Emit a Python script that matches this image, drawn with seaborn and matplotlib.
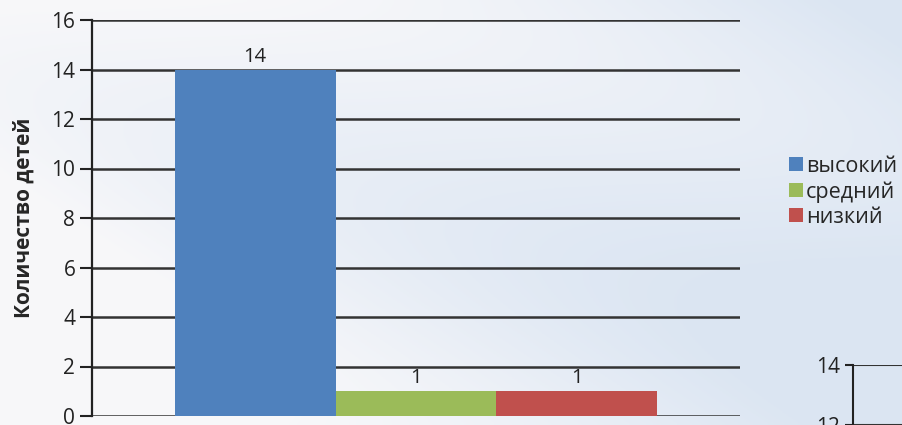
import matplotlib
matplotlib.use("Agg")
import matplotlib.pyplot as plt
import numpy as np
import pandas as pd
import seaborn as sns

# data
levels = ["высокий", "средний", "низкий"]
counts = [14, 1, 1]
level_colors = ["#4f81bd", "#9bbb59", "#c0504d"]
y_ticks = [0, 2, 4, 6, 8, 10, 12, 14, 16]
ylabel = "Количество детей"

# second (cropped) chart in the bottom-right corner
frag_ticks = [12, 14]

df = pd.DataFrame({"group": [""] * len(levels), "level": levels, "count": counts})

sns.set_style("white")
plt.rcParams["font.family"] = ["Open Sans", "DejaVu Sans"]

fig = plt.figure(figsize=(9.03, 4.25), dpi=100)

# soft sky-like backdrop
bg = fig.add_axes([0, 0, 1, 1], zorder=-10)
gx = np.linspace(0, 1, 300)
gy = np.linspace(0, 1, 150)
X, Y = np.meshgrid(gx, gy)
base = np.array([0.86, 0.90, 0.95])
white = np.array([0.97, 0.97, 0.98])
w = np.clip(1.1 - X * 1.1 + 0.25 * np.sin(Y * 6 + X * 4), 0, 1)[..., None]
img = base * (1 - w) + white * w
bg.imshow(img, aspect="auto", extent=[0, 1, 0, 1], origin="lower")
bg.axis("off")

W, H = 903, 425
ax = fig.add_axes([92 / W, (H - 416) / H, (740 - 92) / W, (416 - 20) / H])
ax.patch.set_alpha(0)

sns.barplot(data=df, x="group", y="count", hue="level", palette=level_colors,
            width=0.745, dodge=True, saturation=1, linewidth=0,
            ax=ax, zorder=3, legend=True)

for c in ax.containers:
    ax.bar_label(c, labels=[str(int(v)) for v in c.datavalues], padding=2,
                 fontsize=14.5, color="#222222")

ax.set_ylim(0, 16)
ax.set_xlim(-0.5, 0.5)
ax.set_yticks(y_ticks)
ax.set_xticks([])
ax.set_xlabel("")
ax.set_ylabel(ylabel, fontsize=15, fontweight="bold", labelpad=12)
ax.tick_params(axis="y", labelsize=15, length=9, width=1.5, color="#222222",
               pad=3, labelcolor="#222222", left=True)
ax.grid(axis="y", color="#333333", linewidth=1.8, zorder=0)
ax.set_axisbelow(True)
for s in ["top", "right", "bottom"]:
    ax.spines[s].set_visible(False)
ax.spines["left"].set_color("#222222")
ax.spines["left"].set_linewidth(1.6)

handles, labels = ax.get_legend_handles_labels()
ax.legend(handles, labels, loc="upper left", bbox_to_anchor=(778 / W, (H - 145) / H),
          bbox_transform=fig.transFigure, frameon=False, fontsize=15.5,
          handlelength=0.65, handleheight=0.65, handletextpad=0.15,
          labelspacing=0.2, borderpad=0)

# fragment of the next chart, cut off by the picture edge
ax2 = fig.add_axes([853 / W, (H - 365 - 420) / H, 100 / W, 420 / H])
ax2.patch.set_alpha(0)
ax2.set_ylim(0, 14)
ax2.set_yticks(frag_ticks)
ax2.set_xticks([])
ax2.tick_params(axis="y", labelsize=15, length=6, width=1.5, color="#222222",
                labelcolor="#222222", left=True)
ax2.grid(axis="y", color="#333333", linewidth=1.5)
for s in ["top", "right", "bottom"]:
    ax2.spines[s].set_visible(False)
ax2.spines["left"].set_color("#222222")
ax2.spines["left"].set_linewidth(1.5)

fig.savefig("out.png", dpi=100)
